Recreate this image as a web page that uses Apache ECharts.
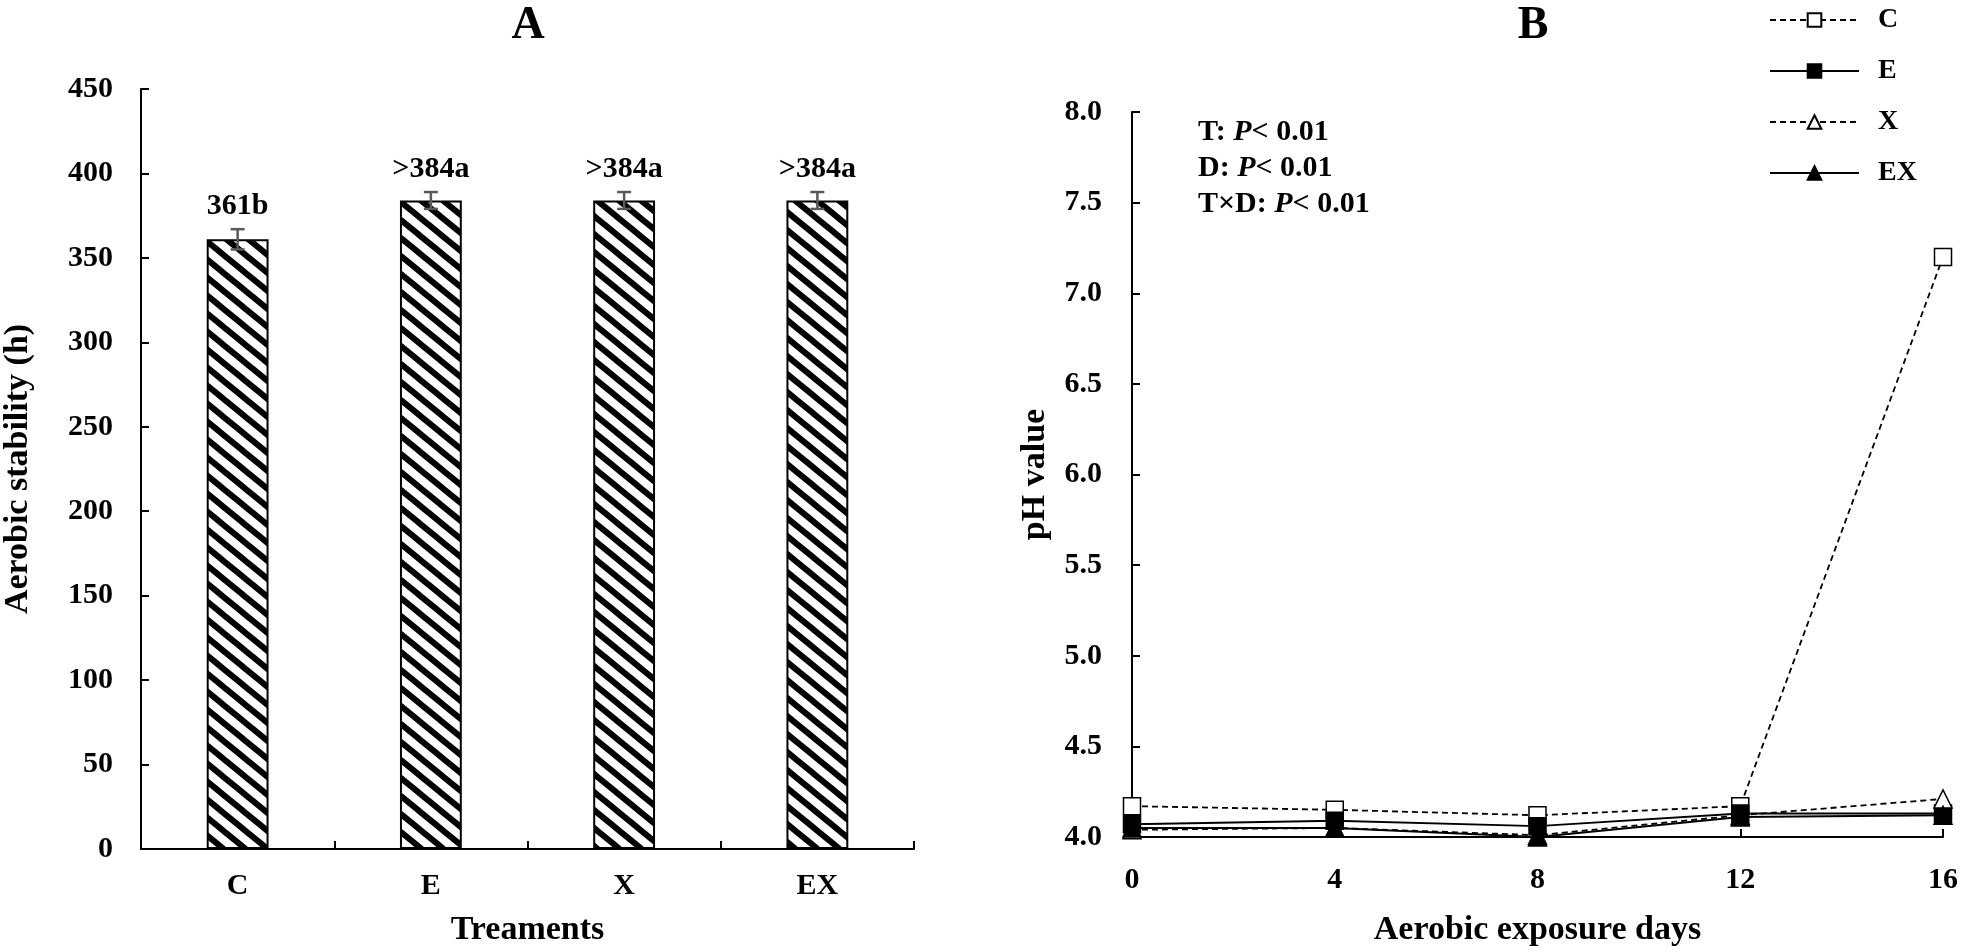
<!DOCTYPE html>
<html>
<head>
<meta charset="utf-8">
<script src="https://cdn.jsdelivr.net/npm/echarts@6/dist/echarts.min.js"></script>
<style>
html,body{margin:0;padding:0;background:#fff;}
#chart{width:1961px;height:952px;}
</style>
</head>
<body>
<div id="chart"></div>
<script>
// ---- Data ----
const categories = ['C', 'E', 'X', 'EX'];
const stability = [361, 384, 384, 384];
const stabilityErr = [6, 5, 5, 5];
const stabilityLabels = ['361b', '>384a', '>384a', '>384a'];

const days = [0, 4, 8, 12, 16];
const phC  = [4.17, 4.15, 4.12, 4.17, 7.20];
const phE  = [4.07, 4.09, 4.06, 4.13, 4.13];
const phX  = [4.04, 4.05, 4.01, 4.12, 4.21];
const phEX = [4.05, 4.05, 4.00, 4.11, 4.12];
const seriesNames = ['C', 'E', 'X', 'EX'];
const statLines = ['T: ', 'D: ', 'T×D: '];

// ---- Style helpers ----
const FONT = '"Liberation Serif", "Times New Roman", serif';

function makeHatch() {
  const W = 22, H = 18;
  const c = document.createElement('canvas');
  c.width = W; c.height = H;
  const g = c.getContext('2d');
  g.fillStyle = '#fff';
  g.fillRect(0, 0, W, H);
  g.strokeStyle = '#000';
  g.lineWidth = 6;
  for (const k of [-1, 0, 1]) {
    g.beginPath();
    g.moveTo(k * W - W, -H);
    g.lineTo(k * W + 2 * W, 2 * H);
    g.stroke();
  }
  return c;
}

const chart = echarts.init(document.getElementById('chart'), null, {renderer: 'canvas'});

const axisLabelStyle = {fontFamily: FONT, fontWeight: 'bold', fontSize: 30, color: '#000'};
const axisNameStyle = {fontFamily: FONT, fontWeight: 'bold', fontSize: 34, color: '#000'};
const axisLineStyle = {show: true, lineStyle: {color: '#000', width: 2}};
const axisTickStyle = {show: true, inside: true, length: 8, lineStyle: {color: '#000', width: 2}};

function lineSeries(name, values, dashed, filled, symbol) {
  return {
    name: name,
    type: 'line',
    xAxisIndex: 1,
    yAxisIndex: 1,
    data: days.map((d, i) => [d, values[i]]),
    symbol: symbol,
    symbolSize: symbol === 'rect' ? 17 : 18,
    clip: false,
    lineStyle: {color: '#000', width: dashed ? 1.8 : 2, type: dashed ? [6, 4] : 'solid'},
    itemStyle: {color: filled ? '#000' : '#fff', borderColor: '#000', borderWidth: 1.5},
    emphasis: {disabled: true},
    animation: false
  };
}

const option = {
  animation: false,
  backgroundColor: '#fff',
  title: [
    {text: 'A', left: 523, top: 21, textAlign: 'center', textVerticalAlign: 'middle',
     textStyle: {fontFamily: FONT, fontWeight: 'bold', fontSize: 46, color: '#000'}},
    {text: 'B', left: 1528, top: 21, textAlign: 'center', textVerticalAlign: 'middle',
     textStyle: {fontFamily: FONT, fontWeight: 'bold', fontSize: 46, color: '#000'}}
  ],
  legend: {
    data: seriesNames,
    orient: 'vertical',
    left: 1764,
    top: 1,
    itemWidth: 89,
    itemHeight: 17,
    itemGap: 23,
    textStyle: {fontFamily: FONT, fontWeight: 'bold', fontSize: 28, color: '#000', lineHeight: 28,
                padding: [0, 0, 0, 14]},
    selectedMode: false
  },
  grid: [
    {left: 141, top: 89, width: 773, height: 763},
    {left: 1132, top: 112, width: 811, height: 729}
  ],
  xAxis: [
    {
      type: 'category', gridIndex: 0, data: categories,
      axisLine: axisLineStyle, axisTick: axisTickStyle,
      axisLabel: Object.assign({margin: 22}, axisLabelStyle),
      name: 'Treaments', nameLocation: 'middle', nameGap: 64, nameTextStyle: axisNameStyle,
      splitLine: {show: false}
    },
    {
      type: 'value', gridIndex: 1, min: 0, max: 16, interval: 4,
      axisLine: axisLineStyle, axisTick: axisTickStyle,
      axisLabel: Object.assign({margin: 28}, axisLabelStyle),
      name: 'Aerobic exposure days', nameLocation: 'middle', nameGap: 76, nameTextStyle: axisNameStyle,
      splitLine: {show: false}
    }
  ],
  yAxis: [
    {
      type: 'value', gridIndex: 0, min: 0, max: 450, interval: 50,
      axisLine: axisLineStyle, axisTick: axisTickStyle,
      axisLabel: Object.assign({margin: 28}, axisLabelStyle),
      name: 'Aerobic stability (h)', nameLocation: 'middle', nameGap: 106, nameTextStyle: axisNameStyle,
      splitLine: {show: false}
    },
    {
      type: 'value', gridIndex: 1, min: 4.0, max: 8.0, interval: 0.5,
      axisLine: axisLineStyle, axisTick: axisTickStyle,
      axisLabel: Object.assign({margin: 30, formatter: v => v.toFixed(1)}, axisLabelStyle),
      name: 'pH value', nameLocation: 'middle', nameGap: 80, nameTextStyle: axisNameStyle,
      splitLine: {show: false}
    }
  ],
  graphic: statLines.map((t, i) => ({
    type: 'text',
    x: 1198,
    y: 132 + i * 36,
    style: {
      text: '{b|' + t + '}{i|P}{b|< 0.01}',
      verticalAlign: 'middle',
      rich: {
        b: {fontFamily: FONT, fontWeight: 'bold', fontSize: 30, fill: '#000'},
        i: {fontFamily: FONT, fontWeight: 'bold', fontStyle: 'italic', fontSize: 30, fill: '#000'}
      }
    }
  })),
  series: [
    {
      type: 'bar',
      xAxisIndex: 0, yAxisIndex: 0,
      data: stability,
      barWidth: '32%',
      itemStyle: {color: {image: makeHatch(), repeat: 'repeat'}, borderColor: '#000', borderWidth: 2},
      emphasis: {disabled: true},
      animation: false
    },
    {
      type: 'custom',
      xAxisIndex: 0, yAxisIndex: 0,
      data: categories.map((c, i) => [i, stability[i], stabilityErr[i]]),
      z: 5,
      renderItem: function (params, api) {
        const i = api.value(0), v = api.value(1), e = api.value(2);
        const top = api.coord([i, v + e]);
        const bot = api.coord([i, v - e]);
        const hw = 7;
        const st = {stroke: '#5a5a5a', lineWidth: 2.5};
        return {
          type: 'group',
          children: [
            {type: 'line', shape: {x1: top[0], y1: top[1], x2: bot[0], y2: bot[1]}, style: st},
            {type: 'line', shape: {x1: top[0] - hw, y1: top[1], x2: top[0] + hw, y2: top[1]}, style: st},
            {type: 'line', shape: {x1: bot[0] - hw, y1: bot[1], x2: bot[0] + hw, y2: bot[1]}, style: st},
            {type: 'text', x: top[0], y: top[1] - 8,
             style: {text: stabilityLabels[params.dataIndex], align: 'center', verticalAlign: 'bottom',
                     font: 'bold 30px ' + FONT, fill: '#000'}}
          ]
        };
      },
      animation: false
    },
    lineSeries('C', phC, true, false, 'rect'),
    lineSeries('E', phE, false, true, 'rect'),
    lineSeries('X', phX, true, false, 'triangle'),
    lineSeries('EX', phEX, false, true, 'triangle')
  ]
};

chart.setOption(option);
</script>
</body>
</html>
